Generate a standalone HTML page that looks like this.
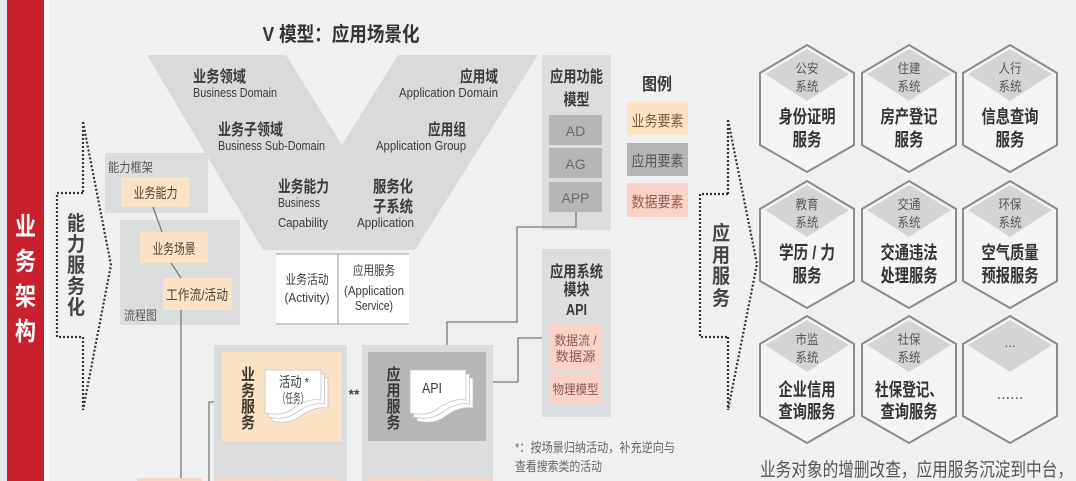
<!DOCTYPE html>
<html><head><meta charset="utf-8"><style>
html,body{margin:0;padding:0;width:1076px;height:481px;overflow:hidden;background:#eef0f1;}
svg{display:block;}
text{font-family:"Liberation Sans","Noto Sans CJK SC",sans-serif;}
</style></head><body>
<svg width="1076" height="481" viewBox="0 0 1076 481" xmlns="http://www.w3.org/2000/svg">
<rect x="0" y="0" width="1076" height="481" fill="#eef0f1"/>
<rect x="0" y="0" width="7" height="481" fill="#e6e7e8"/>
<rect x="7" y="0" width="37" height="481" fill="#c8202c"/>
<rect x="44" y="0" width="5" height="481" fill="#f8f8f8"/>
<g fill="#fff" font-size="25" font-weight="bold" text-anchor="middle">
<text x="25.5" y="235" textLength="21" lengthAdjust="spacingAndGlyphs">业</text>
<text x="25.5" y="270" textLength="21" lengthAdjust="spacingAndGlyphs">务</text>
<text x="25.5" y="305" textLength="21" lengthAdjust="spacingAndGlyphs">架</text>
<text x="25.5" y="340" textLength="21" lengthAdjust="spacingAndGlyphs">构</text>
</g>

<!-- left dotted bracket -->
<g fill="none" stroke="#333" stroke-width="2.2" stroke-dasharray="2 2">
<polyline points="83,122 111,265 83,410"/>
<line x1="83" y1="122" x2="83" y2="193"/>
<polyline points="83,193 57,193 57,337 83,337"/>
<line x1="83" y1="337" x2="83" y2="410"/>
</g>
<g fill="#444" font-size="20" font-weight="bold" text-anchor="middle">
<text x="76" y="230" textLength="18" lengthAdjust="spacingAndGlyphs">能</text>
<text x="76" y="251" textLength="18" lengthAdjust="spacingAndGlyphs">力</text>
<text x="76" y="272" textLength="18" lengthAdjust="spacingAndGlyphs">服</text>
<text x="76" y="293" textLength="18" lengthAdjust="spacingAndGlyphs">务</text>
<text x="76" y="314" textLength="18" lengthAdjust="spacingAndGlyphs">化</text>
</g>

<!-- right dotted bracket -->
<g fill="none" stroke="#333" stroke-width="2.2" stroke-dasharray="2 2">
<polyline points="728,120 757,264 728,410"/>
<line x1="728" y1="120" x2="728" y2="194"/>
<polyline points="728,194 700,194 700,337 728,337"/>
<line x1="728" y1="337" x2="728" y2="410"/>
</g>
<g fill="#444" font-size="20" font-weight="bold" text-anchor="middle">
<text x="721" y="240" textLength="18" lengthAdjust="spacingAndGlyphs">应</text>
<text x="721" y="262" textLength="18" lengthAdjust="spacingAndGlyphs">用</text>
<text x="721" y="283" textLength="18" lengthAdjust="spacingAndGlyphs">服</text>
<text x="721" y="305" textLength="18" lengthAdjust="spacingAndGlyphs">务</text>
</g>

<!-- left panels -->
<rect x="105" y="153" width="103" height="60" fill="#dcdddf"/>
<text x="108" y="172" font-size="13" fill="#555" textLength="45" lengthAdjust="spacingAndGlyphs">能力框架</text>
<rect x="121" y="177" width="69" height="30" fill="#fde3c5"/>
<text x="155.5" y="198" font-size="14" fill="#4a4036" text-anchor="middle" textLength="44" lengthAdjust="spacingAndGlyphs">业务能力</text>
<rect x="120" y="220" width="120" height="105" fill="#dcdddf"/>
<rect x="140" y="232" width="68" height="31" fill="#fde3c5"/>
<text x="174" y="254" font-size="14" fill="#4a4036" text-anchor="middle" textLength="43" lengthAdjust="spacingAndGlyphs">业务场景</text>
<rect x="163" y="278" width="69" height="32" fill="#fde3c5"/>
<text x="197" y="300" font-size="14" fill="#4a4036" text-anchor="middle" textLength="62" lengthAdjust="spacingAndGlyphs">工作流/活动</text>
<text x="124" y="320" font-size="13" fill="#555" textLength="33" lengthAdjust="spacingAndGlyphs">流程图</text>
<g stroke="#7a7a7a" stroke-width="1.3" fill="none">
<line x1="153" y1="207" x2="162" y2="232"/>
<line x1="171" y1="263" x2="181" y2="278"/>
<line x1="181" y1="310" x2="181" y2="481"/>
<polyline points="222,402 209,402 209,481"/>
</g>

<!-- V shape -->
<polygon points="147,55 286,55 342,145 398,55 538,55 415,250 263,250" fill="#d9dadc"/>
<text x="341" y="41" font-size="20" font-weight="bold" fill="#333" text-anchor="middle" textLength="157" lengthAdjust="spacingAndGlyphs">V 模型：应用场景化</text>
<g fill="#3a3a3a">
<text x="193" y="82" font-size="16" font-weight="bold" textLength="53" lengthAdjust="spacingAndGlyphs">业务领域</text>
<text x="193" y="97" font-size="13" textLength="84" lengthAdjust="spacingAndGlyphs">Business Domain</text>
<text x="218" y="135" font-size="16" font-weight="bold" textLength="65" lengthAdjust="spacingAndGlyphs">业务子领域</text>
<text x="218" y="150" font-size="13" textLength="107" lengthAdjust="spacingAndGlyphs">Business Sub-Domain</text>
<text x="278" y="192" font-size="16" font-weight="bold" textLength="51" lengthAdjust="spacingAndGlyphs">业务能力</text>
<text x="278" y="207" font-size="13" textLength="42" lengthAdjust="spacingAndGlyphs">Business</text>
<text x="278" y="227" font-size="13" textLength="50" lengthAdjust="spacingAndGlyphs">Capability</text>
<text x="498" y="82" font-size="16" font-weight="bold" text-anchor="end" textLength="38" lengthAdjust="spacingAndGlyphs">应用域</text>
<text x="498" y="97" font-size="13" text-anchor="end" textLength="99" lengthAdjust="spacingAndGlyphs">Application Domain</text>
<text x="466" y="135" font-size="16" font-weight="bold" text-anchor="end" textLength="38" lengthAdjust="spacingAndGlyphs">应用组</text>
<text x="466" y="150" font-size="13" text-anchor="end" textLength="90" lengthAdjust="spacingAndGlyphs">Application Group</text>
<text x="413" y="192" font-size="16" font-weight="bold" text-anchor="end" textLength="40" lengthAdjust="spacingAndGlyphs">服务化</text>
<text x="413" y="212" font-size="16" font-weight="bold" text-anchor="end" textLength="40" lengthAdjust="spacingAndGlyphs">子系统</text>
<text x="414" y="227" font-size="13" text-anchor="end" textLength="57" lengthAdjust="spacingAndGlyphs">Application</text>
</g>

<!-- white activity box -->
<rect x="276" y="253" width="133" height="72" fill="#fff"/>
<line x1="276" y1="254" x2="409" y2="254" stroke="#c9cacc" stroke-width="2"/>
<line x1="276" y1="324" x2="409" y2="324" stroke="#c9cacc" stroke-width="2"/>
<line x1="338" y1="254" x2="338" y2="324" stroke="#999" stroke-width="1"/>
<g fill="#3a3a3a" font-size="13" text-anchor="middle">
<text x="307" y="284" textLength="43" lengthAdjust="spacingAndGlyphs">业务活动</text>
<text x="307" y="302" textLength="45" lengthAdjust="spacingAndGlyphs">(Activity)</text>
<text x="374" y="275" textLength="42" lengthAdjust="spacingAndGlyphs">应用服务</text>
<text x="374" y="295" textLength="60" lengthAdjust="spacingAndGlyphs">(Application</text>
<text x="374" y="310" textLength="38" lengthAdjust="spacingAndGlyphs">Service)</text>
</g>

<!-- right column panels -->
<rect x="542" y="55" width="69" height="175" fill="#dcdddf"/>
<g fill="#3a3a3a" font-size="16" font-weight="bold" text-anchor="middle">
<text x="576.5" y="82" textLength="53" lengthAdjust="spacingAndGlyphs">应用功能</text>
<text x="576.5" y="105" textLength="26" lengthAdjust="spacingAndGlyphs">模型</text>
</g>
<rect x="549" y="115" width="53" height="30" fill="#b5b6b8"/>
<rect x="549" y="148" width="53" height="30" fill="#b5b6b8"/>
<rect x="549" y="182" width="53" height="30" fill="#b5b6b8"/>
<g fill="#6a6a6a" font-size="14" text-anchor="middle">
<text x="575.5" y="136">AD</text>
<text x="575.5" y="169">AG</text>
<text x="575.5" y="203">APP</text>
</g>

<rect x="542" y="249" width="69" height="168" fill="#dcdddf"/>
<g fill="#3a3a3a" font-size="16" font-weight="bold" text-anchor="middle">
<text x="576.5" y="277" textLength="53" lengthAdjust="spacingAndGlyphs">应用系统</text>
<text x="576.5" y="295" textLength="26" lengthAdjust="spacingAndGlyphs">模块</text>
<text x="576.5" y="315" textLength="21" lengthAdjust="spacingAndGlyphs">API</text>
</g>
<rect x="549" y="323" width="53" height="46" fill="#f9d3c5"/>
<rect x="549" y="373" width="53" height="31" fill="#f9d3c5"/>
<g fill="#8a5a50" font-size="13" text-anchor="middle">
<text x="575.5" y="345" textLength="42" lengthAdjust="spacingAndGlyphs">数据流 /</text>
<text x="575.5" y="361" textLength="40" lengthAdjust="spacingAndGlyphs">数据源</text>
<text x="575.5" y="394" textLength="46" lengthAdjust="spacingAndGlyphs">物理模型</text>
</g>

<!-- legend -->
<text x="657" y="90" font-size="17" font-weight="bold" fill="#3a3a3a" text-anchor="middle" textLength="30" lengthAdjust="spacingAndGlyphs">图例</text>
<rect x="627" y="102" width="61" height="33" fill="#fde3c5"/>
<rect x="627" y="143" width="61" height="33" fill="#b5b6b8"/>
<rect x="627" y="183" width="61" height="34" fill="#f9d3c5"/>
<g font-size="15" text-anchor="middle">
<text x="657.5" y="126" fill="#7a5a3a" textLength="52" lengthAdjust="spacingAndGlyphs">业务要素</text>
<text x="657.5" y="166" fill="#555" textLength="52" lengthAdjust="spacingAndGlyphs">应用要素</text>
<text x="657.5" y="207" fill="#9a5a50" textLength="52" lengthAdjust="spacingAndGlyphs">数据要素</text>
</g>

<!-- connectors -->
<g stroke="#7a7a7a" stroke-width="1.3" fill="none">
<polyline points="576,212 576,227 517,227 517,322 447,322 447,345"/>
<polyline points="493,382 518,382 518,338 542,338"/>
</g>

<!-- bottom panels -->
<rect x="214" y="345" width="133" height="136" fill="#dcdddf"/>
<rect x="222" y="352" width="120" height="89" fill="#fde3c5"/>
<rect x="362" y="345" width="131" height="136" fill="#dcdddf"/>
<rect x="368" y="352" width="118" height="89" fill="#b5b6b8"/>
<g fill="#3f3630" font-size="16" font-weight="bold" text-anchor="middle">
<text x="248" y="380" textLength="14" lengthAdjust="spacingAndGlyphs">业</text>
<text x="248" y="396" textLength="14" lengthAdjust="spacingAndGlyphs">务</text>
<text x="248" y="412" textLength="14" lengthAdjust="spacingAndGlyphs">服</text>
<text x="248" y="428" textLength="14" lengthAdjust="spacingAndGlyphs">务</text>
</g>
<g fill="#3a3a3a" font-size="16" font-weight="bold" text-anchor="middle">
<text x="393.5" y="380" textLength="14" lengthAdjust="spacingAndGlyphs">应</text>
<text x="393.5" y="396" textLength="14" lengthAdjust="spacingAndGlyphs">用</text>
<text x="393.5" y="412" textLength="14" lengthAdjust="spacingAndGlyphs">服</text>
<text x="393.5" y="428" textLength="14" lengthAdjust="spacingAndGlyphs">务</text>
</g>
<!-- doc icons -->
<g fill="#fff" stroke="#c4c4c4" stroke-width="0.8">
<path transform="translate(272,378)" d="M0,0 H56 V30 C44,28 34,34 26,40 C18,45 8,45 0,43 Z"/>
<path transform="translate(268.5,374)" d="M0,0 H56 V30 C44,28 34,34 26,40 C18,45 8,45 0,43 Z"/>
<path transform="translate(265,370)" d="M0,0 H56 V30 C44,28 34,34 26,40 C18,45 8,45 0,43 Z"/>
<path transform="translate(417,378)" d="M0,0 H56 V30 C44,28 34,34 26,40 C18,45 8,45 0,43 Z"/>
<path transform="translate(413.5,374)" d="M0,0 H56 V30 C44,28 34,34 26,40 C18,45 8,45 0,43 Z"/>
<path transform="translate(410,370)" d="M0,0 H56 V30 C44,28 34,34 26,40 C18,45 8,45 0,43 Z"/>
</g>
<text x="294" y="387" font-size="14" fill="#3a3a3a" text-anchor="middle" textLength="30" lengthAdjust="spacingAndGlyphs">活动 *</text>
<text x="293" y="403" font-size="13" fill="#3a3a3a" text-anchor="middle" textLength="30" lengthAdjust="spacingAndGlyphs">（任务）</text>
<text x="432" y="393" font-size="15" fill="#3a3a3a" text-anchor="middle" textLength="20" lengthAdjust="spacingAndGlyphs">API</text>
<text x="354" y="399" font-size="14" font-weight="bold" fill="#444" text-anchor="middle">**</text>

<!-- bottom strips -->
<g fill="#fad6c4">
<rect x="137" y="478" width="65" height="3"/>
<rect x="215" y="478" width="60" height="3"/>
<rect x="278" y="478" width="63" height="3"/>
<rect x="367" y="478" width="60" height="3"/>
<rect x="430" y="478" width="60" height="3"/>
</g>

<!-- footnote -->
<g fill="#666" font-size="13">
<text x="515" y="452" textLength="160" lengthAdjust="spacingAndGlyphs">*：按场景归纳活动，补充逆向与</text>
<text x="515" y="471" textLength="87" lengthAdjust="spacingAndGlyphs">查看搜索类的活动</text>
</g>

<!-- hexagons -->
<defs>
<g id="hx">
<polygon points="0,0 47,28 47,100 0,127 -47,100 -47,28" fill="#f3f4f5" stroke="#8a8a8a" stroke-width="2"/>
<polygon points="0,4 42,29 0,56 -42,29" fill="#d3d4d6"/>
</g>
</defs>

<g transform="translate(807,45)"><use href="#hx"/>
<text y="28" font-size="13" fill="#555" text-anchor="middle" textLength="23" lengthAdjust="spacingAndGlyphs">公安</text>
<text y="46" font-size="13" fill="#555" text-anchor="middle" textLength="23" lengthAdjust="spacingAndGlyphs">系统</text>
<text y="78" font-size="18" font-weight="bold" fill="#333" text-anchor="middle" textLength="57" lengthAdjust="spacingAndGlyphs">身份证明</text>
<text y="101" font-size="18" font-weight="bold" fill="#333" text-anchor="middle" textLength="29" lengthAdjust="spacingAndGlyphs">服务</text></g>

<g transform="translate(909,45)"><use href="#hx"/>
<text y="28" font-size="13" fill="#555" text-anchor="middle" textLength="23" lengthAdjust="spacingAndGlyphs">住建</text>
<text y="46" font-size="13" fill="#555" text-anchor="middle" textLength="23" lengthAdjust="spacingAndGlyphs">系统</text>
<text y="78" font-size="18" font-weight="bold" fill="#333" text-anchor="middle" textLength="57" lengthAdjust="spacingAndGlyphs">房产登记</text>
<text y="101" font-size="18" font-weight="bold" fill="#333" text-anchor="middle" textLength="29" lengthAdjust="spacingAndGlyphs">服务</text></g>

<g transform="translate(1010,45)"><use href="#hx"/>
<text y="28" font-size="13" fill="#555" text-anchor="middle" textLength="23" lengthAdjust="spacingAndGlyphs">人行</text>
<text y="46" font-size="13" fill="#555" text-anchor="middle" textLength="23" lengthAdjust="spacingAndGlyphs">系统</text>
<text y="78" font-size="18" font-weight="bold" fill="#333" text-anchor="middle" textLength="57" lengthAdjust="spacingAndGlyphs">信息查询</text>
<text y="101" font-size="18" font-weight="bold" fill="#333" text-anchor="middle" textLength="29" lengthAdjust="spacingAndGlyphs">服务</text></g>

<g transform="translate(807,181)"><use href="#hx"/>
<text y="28" font-size="13" fill="#555" text-anchor="middle" textLength="23" lengthAdjust="spacingAndGlyphs">教育</text>
<text y="46" font-size="13" fill="#555" text-anchor="middle" textLength="23" lengthAdjust="spacingAndGlyphs">系统</text>
<text y="78" font-size="18" font-weight="bold" fill="#333" text-anchor="middle" textLength="56" lengthAdjust="spacingAndGlyphs">学历 / 力</text>
<text y="101" font-size="18" font-weight="bold" fill="#333" text-anchor="middle" textLength="29" lengthAdjust="spacingAndGlyphs">服务</text></g>

<g transform="translate(909,181)"><use href="#hx"/>
<text y="28" font-size="13" fill="#555" text-anchor="middle" textLength="23" lengthAdjust="spacingAndGlyphs">交通</text>
<text y="46" font-size="13" fill="#555" text-anchor="middle" textLength="23" lengthAdjust="spacingAndGlyphs">系统</text>
<text y="78" font-size="18" font-weight="bold" fill="#333" text-anchor="middle" textLength="57" lengthAdjust="spacingAndGlyphs">交通违法</text>
<text y="101" font-size="18" font-weight="bold" fill="#333" text-anchor="middle" textLength="57" lengthAdjust="spacingAndGlyphs">处理服务</text></g>

<g transform="translate(1010,181)"><use href="#hx"/>
<text y="28" font-size="13" fill="#555" text-anchor="middle" textLength="23" lengthAdjust="spacingAndGlyphs">环保</text>
<text y="46" font-size="13" fill="#555" text-anchor="middle" textLength="23" lengthAdjust="spacingAndGlyphs">系统</text>
<text y="78" font-size="18" font-weight="bold" fill="#333" text-anchor="middle" textLength="57" lengthAdjust="spacingAndGlyphs">空气质量</text>
<text y="101" font-size="18" font-weight="bold" fill="#333" text-anchor="middle" textLength="57" lengthAdjust="spacingAndGlyphs">预报服务</text></g>

<g transform="translate(807,316)"><use href="#hx"/>
<text y="28" font-size="13" fill="#555" text-anchor="middle" textLength="23" lengthAdjust="spacingAndGlyphs">市监</text>
<text y="46" font-size="13" fill="#555" text-anchor="middle" textLength="23" lengthAdjust="spacingAndGlyphs">系统</text>
<text y="80" font-size="18" font-weight="bold" fill="#333" text-anchor="middle" textLength="57" lengthAdjust="spacingAndGlyphs">企业信用</text>
<text y="102" font-size="18" font-weight="bold" fill="#333" text-anchor="middle" textLength="57" lengthAdjust="spacingAndGlyphs">查询服务</text></g>

<g transform="translate(909,316)"><use href="#hx"/>
<text y="28" font-size="13" fill="#555" text-anchor="middle" textLength="23" lengthAdjust="spacingAndGlyphs">社保</text>
<text y="46" font-size="13" fill="#555" text-anchor="middle" textLength="23" lengthAdjust="spacingAndGlyphs">系统</text>
<text y="80" font-size="18" font-weight="bold" fill="#333" text-anchor="middle" textLength="68" lengthAdjust="spacingAndGlyphs">社保登记、</text>
<text y="102" font-size="18" font-weight="bold" fill="#333" text-anchor="middle" textLength="57" lengthAdjust="spacingAndGlyphs">查询服务</text></g>

<g transform="translate(1010,316)"><use href="#hx"/>
<text y="31" font-size="13" fill="#555" text-anchor="middle">...</text>
<text y="83" font-size="16" fill="#555" text-anchor="middle">......</text></g>

<text x="760" y="476" font-size="19" fill="#555" textLength="313" lengthAdjust="spacingAndGlyphs">业务对象的增删改查，应用服务沉淀到中台，</text>
</svg>
</body></html>
